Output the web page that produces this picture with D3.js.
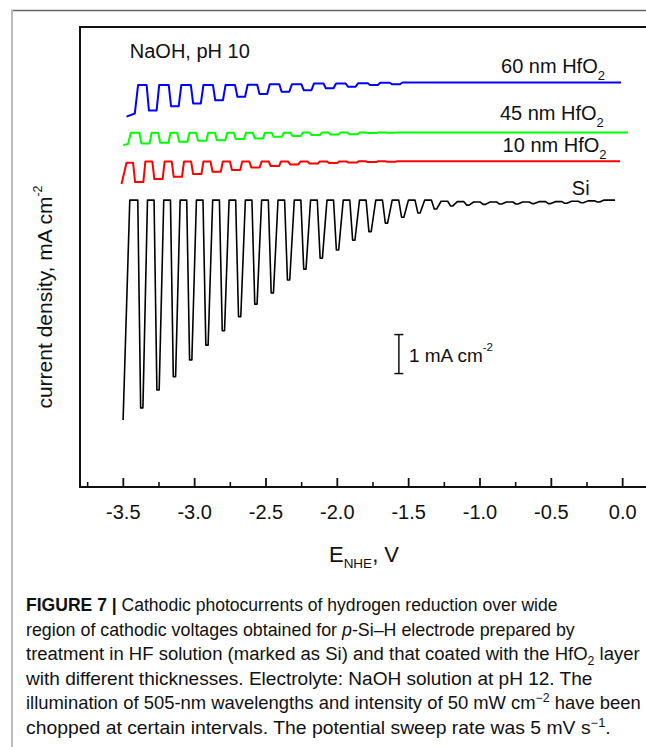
<!DOCTYPE html>
<html>
<head>
<meta charset="utf-8">
<script src="https://cdn.jsdelivr.net/npm/d3@7/dist/d3.min.js"></script>
<style>
body{margin:0;background:#fff;}
svg text{font-family:"Liberation Sans",Arial,Helvetica,sans-serif;fill:#111;}
</style>
</head>
<body>
<svg id="chart" width="646" height="747"></svg>
<script>
// ---------------------------------------------------------------
// data (E in V vs NHE, j in mA cm-2, traces offset)
// ---------------------------------------------------------------
var xTicks      = [-3.5,-3.0,-2.5,-2.0,-1.5,-1.0,-0.5,0.0];
var xMinorTicks = [-3.75,-3.25,-2.75,-2.25,-1.75,-1.25,-0.75,-0.25];

// bare Si
var siLead  = [[-3.498,-5.64],[-3.451,0]];
var siOn    = [-3.395,-3.281,-3.166,-3.052,-2.938,-2.823,-2.709,-2.595,-2.480,-2.366,
               -2.252,-2.137,-2.023,-1.909,-1.795,-1.680,-1.566,-1.452,-1.337,-1.223,
               -1.109,-0.994,-0.880,-0.766,-0.651,-0.537,-0.423,-0.308,-0.194];
var siDark  = [0,0,0,0,0,0,0,0,0,0, 0,0,0,0,0,0,0,0,0,-0.03,
               -0.04,-0.05,-0.05,-0.05,-0.05,-0.04,-0.04,-0.03,-0.02];
var siLight = [-5.33,-4.87,-4.53,-4.10,-3.72,-3.35,-2.99,-2.67,-2.38,-2.05,
               -1.77,-1.49,-1.28,-1.03,-0.81,-0.59,-0.44,-0.33,-0.23,-0.15,
               -0.13,-0.11,-0.10,-0.10,-0.09,-0.09,-0.08,-0.07,-0.05];
var siEnd   = [[-0.05,0]];

// 60 nm HfO2
var blueLead  = [[-3.474,2.14],[-3.416,2.22],[-3.393,2.95]];
var blueOn    = [-3.333,-3.178,-3.023,-2.868,-2.713,-2.558,-2.403,-2.248,-2.093,-1.938,-1.783,-1.628];
var blueDark  = [2.95,2.95,2.95,2.95,2.95,2.96,2.97,2.97,2.99,2.99,3.00,3.01];
var blueLight = [2.30,2.41,2.48,2.56,2.65,2.72,2.78,2.82,2.87,2.91,2.95,2.97];
var blueEnd   = [[-0.008,3.018]];

// 45 nm HfO2
var greenLead  = [[-3.498,1.41],[-3.463,1.44],[-3.444,1.726]];
var greenOn    = [-3.384,-3.252,-3.119,-2.987,-2.854,-2.722,-2.589,-2.457,-2.324,-2.191,-2.059,-1.926,-1.794,-1.661];
var greenDark  = [1.726,1.726,1.726,1.726,1.728,1.728,1.730,1.730,1.730,1.732,1.732,1.734,1.734,1.736];
var greenLight = [1.454,1.469,1.495,1.521,1.538,1.564,1.582,1.623,1.641,1.667,1.685,1.692,1.718,1.725];
var greenEnd   = [[0.041,1.736]];

// 10 nm HfO2
var redLead  = [[-3.509,0.41],[-3.474,0.956]];
var redOn    = [-3.428,-3.293,-3.157,-3.021,-2.885,-2.749,-2.613,-2.477,-2.341,-2.205,-2.069,-1.933,-1.797,-1.661];
var redDark  = [0.956,0.987,0.987,0.987,0.987,0.990,0.990,0.990,0.990,0.990,0.993,0.993,0.995,0.995];
var redLight = [0.462,0.538,0.597,0.667,0.726,0.769,0.838,0.872,0.915,0.936,0.949,0.962,0.975,0.985];
var redEnd   = [[-0.015,0.995]];

var captionLines = [
	[{t:"FIGURE 7 | ",b:true},{t:"Cathodic photocurrents of hydrogen reduction over wide"}],
	[{t:"region of cathodic voltages obtained for "},{t:"p",i:true},{t:"-Si\u2013H electrode prepared by"}],
	[{t:"treatment in HF solution (marked as Si) and that coated with the HfO"},{t:"2",sub:true},{t:" layer"}],
	[{t:"with different thicknesses. Electrolyte: NaOH solution at pH 12. The"}],
	[{t:"illumination of 505-nm wavelengths and intensity of 50 mW cm"},{t:"\u22122",sup:true},{t:" have been"}],
	[{t:"chopped at certain intervals. The potential sweep rate was 5 mV s"},{t:"\u22121",sup:true},{t:"."}]
];
var captionWidths = [532,549,614,567,615,585];

// ---------------------------------------------------------------
var svg = d3.select("#chart");
var PLOT_L = 80, PLOT_T = 27, PLOT_B = 487, PLOT_R = 646;

var x = d3.scaleLinear().domain([-3.8,0.167]).range([PLOT_L,PLOT_R]);
var y = d3.scaleLinear().domain([-7.36,4.44]).range([PLOT_B,PLOT_T]);

// page frame (grey rules of the figure box)
svg.append("line").attr("x1",11).attr("x2",646).attr("y1",10.5).attr("y2",10.5)
	.attr("stroke","#666").attr("stroke-width",1.5);
svg.append("line").attr("x1",12).attr("x2",12).attr("y1",10).attr("y2",747)
	.attr("stroke","#bbb").attr("stroke-width",2);

// chopped light trace -> polyline vertices
function buildTrace(lead,on,dark,light,end,shape){
	var pts = lead.slice();
	on.forEach(function(e,k){
		var next = (k+1<on.length) ? dark[k+1] : end[0][1];
		pts.push([e,dark[k]]);
		pts.push([e+shape.fall,light[k]]);
		pts.push([e+shape.fall+shape.hold,light[k]]);
		pts.push([e+shape.fall+shape.hold+shape.rise,next]);
	});
	return pts.concat(end);
}

var traces = [
	{pts:buildTrace(siLead,siOn,siDark,siLight,siEnd,{fall:0.02,hold:0.016,rise:0.032}),color:"#000",w:1.6},
	{pts:buildTrace(redLead,redOn,redDark,redLight,redEnd,{fall:0.014,hold:0.058,rise:0.014}),color:"#ff0000",w:2},
	{pts:buildTrace(greenLead,greenOn,greenDark,greenLight,greenEnd,{fall:0.014,hold:0.058,rise:0.014}),color:"#00ff00",w:2},
	{pts:buildTrace(blueLead,blueOn,blueDark,blueLight,blueEnd,{fall:0.016,hold:0.054,rise:0.018}),color:"#0000ff",w:2}
];

var line = d3.line().x(function(d){return x(d[0]);}).y(function(d){return y(d[1]);});

svg.append("g").attr("id","traces").selectAll("path").data(traces).enter()
	.append("path")
	.attr("d",function(d){return line(d.pts);})
	.attr("fill","none")
	.attr("stroke",function(d){return d.color;})
	.attr("stroke-width",function(d){return d.w;})
	.attr("stroke-linejoin","round");

// ---- axes ----
var gMinor = svg.append("g").attr("transform","translate(0,"+PLOT_B+")")
	.call(d3.axisBottom(x).tickValues(xMinorTicks).tickSizeInner(-5).tickSizeOuter(0).tickFormat(""));
gMinor.select(".domain").remove();
gMinor.selectAll("line").attr("stroke","#111").attr("stroke-width",1.6);

var gx = svg.append("g").attr("transform","translate(0,"+PLOT_B+")")
	.call(d3.axisBottom(x).tickValues(xTicks).tickSizeInner(-9).tickSizeOuter(0)
		.tickFormat(function(d){return d.toFixed(1);}));
gx.select(".domain").remove();
gx.selectAll("line").attr("stroke","#111").attr("stroke-width",1.8);
gx.selectAll("text").attr("y",32).attr("dy",0).attr("font-size","20px")
	.style("font-family","'Liberation Sans',Arial,sans-serif").attr("fill","#111");

// plot frame (left, top, bottom; right side is cut off in the figure)
svg.append("path")
	.attr("d","M"+PLOT_R+","+PLOT_T+"H"+PLOT_L+"V"+PLOT_B+"H"+PLOT_R)
	.attr("fill","none").attr("stroke","#111").attr("stroke-width",2);

// axis titles
var xt = svg.append("text").attr("x",364).attr("y",562).attr("text-anchor","middle").attr("font-size","22px");
xt.append("tspan").text("E");
xt.append("tspan").attr("font-size","13.5px").attr("dy",6).text("NHE");
xt.append("tspan").attr("dy",-6).text(", V");

var yt = svg.append("text").attr("transform","translate(52,297) rotate(-90)")
	.attr("text-anchor","middle").attr("font-size","21px");
yt.append("tspan").text("current density, mA cm");
yt.append("tspan").attr("font-size","12.5px").attr("dy",-10).text("-2");

// annotations
svg.append("text").attr("x",x(-3.451)).attr("y",y(3.633)).attr("font-size","20px").text("NaOH, pH 10");

function hfLabel(txt,e,j){
	var t = svg.append("text").attr("x",x(e)).attr("y",y(j)).attr("font-size","20px");
	t.append("tspan").text(txt);
	t.append("tspan").attr("font-size","13px").attr("dy",7).text("2");
}
hfLabel("60 nm HfO",-0.849,3.249);
hfLabel("45 nm HfO",-0.857,2.051);
hfLabel("10 nm HfO",-0.838,1.223);
svg.append("text").attr("x",x(-0.353)).attr("y",y(0.128)).attr("font-size","20px").text("Si");

// 1 mA cm-2 scale bar
var sbE = -1.565, sbLo = -4.45, sbHi = -3.45;
var gs = svg.append("g").attr("stroke","#111").attr("stroke-width",1.5);
gs.append("line").attr("x1",x(sbE)).attr("x2",x(sbE)).attr("y1",y(sbLo)).attr("y2",y(sbHi));
gs.append("line").attr("x1",x(sbE)-4.5).attr("x2",x(sbE)+4.5).attr("y1",y(sbLo)).attr("y2",y(sbLo));
gs.append("line").attr("x1",x(sbE)-4.5).attr("x2",x(sbE)+4.5).attr("y1",y(sbHi)).attr("y2",y(sbHi));
var sbt = svg.append("text").attr("x",x(sbE)+10).attr("y",(y(sbLo)+y(sbHi))/2+7.5).attr("font-size","19px");
sbt.append("tspan").text("1 mA cm");
sbt.append("tspan").attr("font-size","11.5px").attr("dy",-11).text("-2");

// ---- caption ----
var gCap = svg.append("g").attr("id","caption");
captionLines.forEach(function(parts,i){
	var base = 611 + i*24.6;
	var t = gCap.append("text").attr("x",26).attr("y",base).attr("font-size","18px").attr("fill","#222");
	var shift = 0;
	parts.forEach(function(p){
		var s = t.append("tspan").text(p.t);
		var dy = 0;
		if (p.sub){ dy = 5 - shift; shift = 5; s.attr("font-size","12px"); }
		else if (p.sup){ dy = -7 - shift; shift = -7; s.attr("font-size","12px"); }
		else { dy = -shift; shift = 0; }
		if (dy) s.attr("dy",dy);
		if (p.b) s.attr("font-weight","bold");
		if (p.i) s.attr("font-style","italic");
	});
	var w = t.node().getComputedTextLength();
	var sx = captionWidths[i]/w;
	t.attr("transform","translate(26,0) scale("+sx+",1) translate(-26,0)");
});
</script>
</body>
</html>
